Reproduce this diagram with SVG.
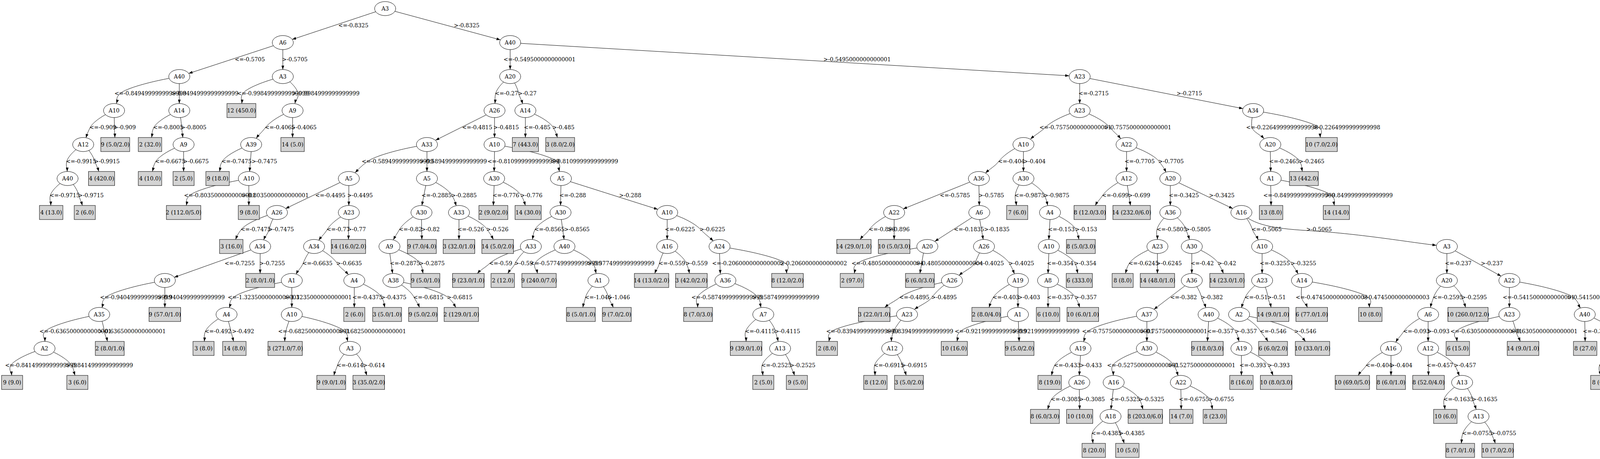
<svg xmlns="http://www.w3.org/2000/svg" width="4236" height="1175" viewBox="0 0 4236 1175">
<defs>
<marker id="a" viewBox="0 0 10 7" refX="10" refY="3.5" markerWidth="10" markerHeight="7" markerUnits="userSpaceOnUse" orient="auto"><path d="M0,0L10,3.5L0,7z" fill="#000"/></marker>
<style>
.e path{fill:none;stroke:#000;stroke-width:1;marker-end:url(#a)}
.e text{font-family:"DejaVu Serif",serif;font-size:14px;fill:#000}
.n ellipse{fill:#fff;stroke:#000;stroke-width:1}
.n rect{fill:#d3d3d3;stroke:#000;stroke-width:1}
.n text{font-family:"DejaVu Serif",serif;font-size:14px;text-anchor:middle;fill:#000}
</style>
</defs>
<rect width="4236" height="1175" fill="#fff"/>
<g id="connectors" class="e">
<path d="M962,30 L748,101"/>
<path d="M1011,29 L1281,102"/>
<path d="M700,117 L483,188"/>
<path d="M724,127 L724,178"/>
<path d="M459,196 C384,208 321,227 308,239 S301,255 298,265"/>
<path d="M459,214 L459,265"/>
<path d="M724,196 C673,208 630,227 622,239 S620,255 619,265"/>
<path d="M724,196 C744,208 761,227 763,239 S757,255 755,265"/>
<path d="M1306,127 L1306,178"/>
<path d="M1333,111 L2737,194"/>
<path d="M292,283 C262,295 237,314 231,326 S223,343 220,353"/>
<path d="M292,283 C292,295 293,314 293,326 S294,342 294,352"/>
<path d="M459,283 C427,295 400,314 394,326 S390,342 388,352"/>
<path d="M459,283 C462,295 464,314 465,326 S467,342 468,352"/>
<path d="M749,283 C715,295 689,314 680,326 S663,344 656,354"/>
<path d="M749,301 L749,352"/>
<path d="M1306,196 C1288,208 1272,227 1269,239 S1268,255 1267,265"/>
<path d="M1306,196 C1317,208 1325,227 1328,239 S1335,255 1338,266"/>
<path d="M2764,214 L2764,265"/>
<path d="M2790,201 L3182,278"/>
<path d="M213,370 C192,382 174,401 171,413 S172,429 172,439"/>
<path d="M213,370 C228,382 239,401 243,413 S250,429 253,439"/>
<path d="M470,370 C435,382 406,401 399,413 S393,429 390,439"/>
<path d="M470,388 L470,439"/>
<path d="M643,370 C606,382 576,401 569,413 S564,429 562,439"/>
<path d="M643,388 L639,439"/>
<path d="M1245,294 L1115,359"/>
<path d="M1266,301 L1266,352"/>
<path d="M1345,301 L1345,352"/>
<path d="M1345,283 C1381,295 1409,314 1416,326 S1424,342 1427,352"/>
<path d="M2764,283 C2720,295 2688,314 2676,326 S2649,346 2638,356"/>
<path d="M2764,283 C2803,295 2831,314 2841,326 S2861,345 2869,355"/>
<path d="M3208,283 C3207,295 3202,314 3205,326 S3227,345 3236,355"/>
<path d="M3208,283 C3292,295 3362,314 3376,326 S3379,342 3380,352"/>
<path d="M173,457 C151,469 132,488 129,500 S130,516 130,526"/>
<path d="M173,457 C188,469 199,488 202,500 S208,516 211,526"/>
<path d="M637,457 C562,469 499,488 486,500 S479,516 477,526"/>
<path d="M637,475 L637,526"/>
<path d="M1093,370 C1017,382 957,401 941,413 S919,432 909,442"/>
<path d="M1093,388 L1093,439"/>
<path d="M1266,388 L1265,439"/>
<path d="M1266,370 C1346,382 1411,401 1425,413 S1430,429 1432,439"/>
<path d="M2620,370 C2589,382 2566,401 2557,413 S2533,433 2523,443"/>
<path d="M2620,388 L2620,439"/>
<path d="M2884,388 L2884,439"/>
<path d="M2884,370 C2926,382 2958,401 2967,413 S2980,430 2985,441"/>
<path d="M3252,388 L3253,439"/>
<path d="M3252,370 C3290,382 3320,401 3327,413 S3332,429 3334,439"/>
<path d="M871,467 L731,534"/>
<path d="M893,475 L893,526"/>
<path d="M1090,475 L1080,526"/>
<path d="M1093,457 C1125,469 1150,488 1157,500 S1165,517 1168,527"/>
<path d="M1265,475 L1263,526"/>
<path d="M1265,457 C1300,469 1327,488 1334,500 S1342,516 1345,526"/>
<path d="M1436,475 L1435,526"/>
<path d="M1460,465 L1684,536"/>
<path d="M2483,466 L2312,535"/>
<path d="M2506,475 L2507,526"/>
<path d="M2620,457 C2610,469 2600,488 2599,500 S2601,516 2602,526"/>
<path d="M2620,457 C2647,469 2669,488 2674,500 S2680,516 2682,526"/>
<path d="M2884,457 C2854,469 2831,488 2823,500 S2809,516 2804,526"/>
<path d="M2886,475 L2894,526"/>
<path d="M2996,475 L2996,526"/>
<path d="M3018,468 L3156,534"/>
<path d="M3253,475 L3254,526"/>
<path d="M3253,457 C3331,469 3395,488 3408,500 S3414,516 3416,526"/>
<path d="M709,544 C664,556 627,575 618,587 S607,603 603,613"/>
<path d="M709,544 C699,556 692,575 689,587 S679,604 675,614"/>
<path d="M893,544 C866,556 845,575 838,587 S823,605 816,615"/>
<path d="M893,562 L892,613"/>
<path d="M1079,544 C1051,556 1030,575 1023,587 S1012,604 1007,614"/>
<path d="M1079,562 L1080,613"/>
<path d="M1175,562 L1175,613"/>
<path d="M1175,544 C1211,556 1239,575 1247,587 S1258,603 1263,613"/>
<path d="M1435,544 C1403,556 1376,575 1370,587 S1365,603 1363,613"/>
<path d="M1437,562 L1444,613"/>
<path d="M1708,562 L1708,613"/>
<path d="M1708,544 C1751,556 1782,575 1793,587 S1816,607 1826,617"/>
<path d="M2289,544 C2258,556 2234,575 2226,587 S2209,603 2202,613"/>
<path d="M2289,562 L2289,613"/>
<path d="M2488,557 L2393,618"/>
<path d="M2508,562 L2517,613"/>
<path d="M2688,562 L2685,613"/>
<path d="M2688,544 C2721,556 2748,575 2754,587 S2760,603 2762,613"/>
<path d="M2996,544 C2979,556 2965,575 2962,587 S2963,603 2963,613"/>
<path d="M2996,544 C3016,556 3032,575 3036,587 S3042,603 3045,613"/>
<path d="M3178,544 C3192,556 3202,575 3206,587 S3217,604 3221,614"/>
<path d="M3178,544 C3205,575 3260,585 3344,590 C3480,598 3600,619 3677,628"/>
<path d="M642,640 L446,710"/>
<path d="M666,649 L666,700"/>
<path d="M804,631 C790,643 781,662 776,674 S763,692 758,702"/>
<path d="M804,631 C834,643 855,662 863,674 S883,693 892,703"/>
<path d="M998,649 L1005,700"/>
<path d="M997,631 C1036,643 1068,662 1075,674 S1081,690 1083,700"/>
<path d="M1359,631 C1307,643 1267,662 1254,674 S1231,690 1222,700"/>
<path d="M1359,631 C1339,643 1325,662 1319,674 S1306,690 1300,700"/>
<path d="M1445,631 C1408,643 1375,662 1370,674 S1374,690 1376,700"/>
<path d="M1445,631 C1482,643 1511,662 1518,674 S1524,690 1526,700"/>
<path d="M1708,631 C1698,643 1691,662 1688,674 S1680,690 1676,700"/>
<path d="M1708,631 C1733,643 1752,662 1757,674 S1763,690 1765,700"/>
<path d="M1842,649 L1844,701"/>
<path d="M1842,631 C1927,643 1997,662 2011,674 S2013,690 2014,700"/>
<path d="M2374,631 C2285,643 2210,662 2195,674 S2189,690 2187,700"/>
<path d="M2364,648 L2355,700"/>
<path d="M2519,631 C2507,643 2502,662 2495,674 S2467,695 2455,705"/>
<path d="M2519,631 C2552,643 2577,662 2584,674 S2593,691 2597,701"/>
<path d="M2685,649 L2683,700"/>
<path d="M2685,631 C2719,643 2746,662 2752,674 S2757,690 2759,700"/>
<path d="M2963,631 C2927,643 2898,662 2891,674 S2884,690 2881,700"/>
<path d="M2963,649 L2963,700"/>
<path d="M3051,649 L3051,700"/>
<path d="M3051,631 C3085,643 3112,662 3119,674 S3128,690 3132,700"/>
<path d="M3231,649 L3231,700"/>
<path d="M3231,631 C3269,643 3298,662 3306,674 S3318,691 3323,701"/>
<path d="M3704,649 L3704,700"/>
<path d="M3725,642 L3843,707"/>
<path d="M422,718 C347,730 284,749 271,761 S264,777 261,788"/>
<path d="M422,736 L422,787"/>
<path d="M747,718 C673,730 611,749 598,761 S590,778 587,788"/>
<path d="M747,736 L747,787"/>
<path d="M907,736 L907,787"/>
<path d="M907,718 C942,730 970,749 977,761 S983,777 985,787"/>
<path d="M1007,718 C1034,730 1054,749 1060,761 S1070,777 1074,787"/>
<path d="M1007,718 C1077,730 1132,749 1146,761 S1161,777 1167,787"/>
<path d="M1532,718 C1516,730 1502,749 1499,761 S1494,777 1492,787"/>
<path d="M1532,718 C1545,730 1554,749 1558,761 S1566,777 1570,787"/>
<path d="M1857,718 C1821,730 1791,749 1785,761 S1786,777 1786,787"/>
<path d="M1857,718 C1899,730 1932,749 1940,761 S1946,777 1948,787"/>
<path d="M2437,718 C2371,730 2320,749 2304,761 S2277,777 2265,787"/>
<path d="M2437,718 C2412,730 2395,749 2386,761 S2355,782 2341,792"/>
<path d="M2606,718 C2575,730 2550,749 2543,761 S2535,777 2532,787"/>
<path d="M2606,736 L2606,787"/>
<path d="M2683,736 L2683,787"/>
<path d="M2683,718 C2718,730 2746,749 2753,761 S2761,777 2764,787"/>
<path d="M3033,732 L2954,792"/>
<path d="M3051,718 C3064,730 3073,749 3076,761 S3084,778 3087,788"/>
<path d="M3231,718 C3210,730 3193,749 3188,761 S3181,778 3178,788"/>
<path d="M3231,718 C3239,730 3244,749 3246,761 S3252,777 3254,787"/>
<path d="M3333,718 C3333,730 3330,749 3332,761 S3343,777 3347,787"/>
<path d="M3333,718 C3418,730 3488,749 3502,761 S3505,777 3506,787"/>
<path d="M3704,718 C3687,730 3674,749 3670,761 S3664,777 3662,787"/>
<path d="M3704,718 C3724,730 3739,749 3743,761 S3749,777 3752,787"/>
<path d="M3864,736 L3864,787"/>
<path d="M3864,718 C3946,730 4012,749 4027,761 S4040,779 4046,789"/>
<path d="M254,805 C185,817 127,836 116,848 S115,864 115,874"/>
<path d="M254,805 C261,817 265,836 267,848 S273,864 275,874"/>
<path d="M580,805 C553,817 531,836 526,848 S524,864 523,874"/>
<path d="M585,823 L598,874"/>
<path d="M740,822 C733,840 729,855 729,874"/>
<path d="M747,805 C815,817 870,836 882,848 S888,864 890,874"/>
<path d="M1954,805 C1932,817 1913,836 1909,848 S1910,864 1910,874"/>
<path d="M1954,805 C1970,817 1982,836 1985,848 S1990,864 1992,874"/>
<path d="M2322,805 C2226,817 2146,836 2130,848 S2124,864 2122,874"/>
<path d="M2306,820 C2290,840 2282,855 2282,874"/>
<path d="M2606,805 C2533,817 2472,836 2459,848 S2452,864 2450,874"/>
<path d="M2607,823 L2609,874"/>
<path d="M2936,805 C2861,817 2799,836 2785,848 S2777,865 2774,875"/>
<path d="M2936,823 L2936,874"/>
<path d="M3094,823 L3091,874"/>
<path d="M3094,805 C3129,817 3156,836 3163,848 S3169,864 3172,874"/>
<path d="M3172,805 C3200,817 3220,836 3227,848 S3240,864 3246,874"/>
<path d="M3172,805 C3244,817 3300,836 3315,848 S3334,864 3342,874"/>
<path d="M3656,805 C3625,817 3602,836 3594,848 S3579,866 3573,876"/>
<path d="M3656,823 L3656,874"/>
<path d="M3864,805 C3796,817 3739,836 3728,848 S3729,864 3730,874"/>
<path d="M3864,805 C3873,817 3878,836 3881,848 S3888,864 3892,874"/>
<path d="M4057,823 L4058,874"/>
<path d="M4057,805 C4093,817 4122,836 4129,848 S4135,864 4138,874"/>
<path d="M114,892 C71,904 35,923 28,935 S29,951 30,961"/>
<path d="M114,892 C149,904 176,923 183,935 S189,951 192,961"/>
<path d="M896,892 C880,904 868,923 864,935 S857,951 855,961"/>
<path d="M896,892 C914,904 927,923 931,935 S936,951 939,961"/>
<path d="M1997,892 C1974,904 1954,923 1951,935 S1952,951 1953,961"/>
<path d="M1997,892 C2011,904 2021,923 2024,935 S2031,951 2034,961"/>
<path d="M2284,892 C2262,904 2242,923 2239,935 S2240,951 2240,961"/>
<path d="M2284,892 C2297,904 2307,923 2310,935 S2317,951 2320,961"/>
<path d="M2766,892 C2733,904 2706,923 2700,935 S2694,951 2692,961"/>
<path d="M2766,910 L2763,961"/>
<path d="M2936,892 C2893,904 2856,923 2849,935 S2850,951 2850,961"/>
<path d="M2936,892 C2971,904 2998,923 3005,935 S3013,952 3016,962"/>
<path d="M3178,910 L3178,961"/>
<path d="M3178,892 C3213,904 3240,923 3247,935 S3255,951 3259,961"/>
<path d="M3561,892 C3530,904 3506,923 3498,935 S3483,951 3477,961"/>
<path d="M3561,910 L3561,961"/>
<path d="M3656,910 L3657,961"/>
<path d="M3656,892 C3690,904 3717,923 3724,935 S3732,952 3736,962"/>
<path d="M4144,892 C4120,904 4099,923 4095,935 S4096,951 4097,961"/>
<path d="M4144,892 C4158,904 4169,923 4172,935 S4179,951 4182,961"/>
<path d="M2763,979 C2728,991 2699,1010 2692,1022 S2685,1038 2682,1048"/>
<path d="M2763,997 L2764,1048"/>
<path d="M2850,997 L2844,1048"/>
<path d="M2851,979 C2884,991 2911,1010 2917,1022 S2923,1038 2926,1048"/>
<path d="M3023,997 L3024,1048"/>
<path d="M3023,979 C3060,991 3089,1010 3096,1022 S3102,1038 3104,1048"/>
<path d="M3743,979 C3720,991 3700,1010 3697,1022 S3698,1038 3699,1048"/>
<path d="M3743,979 C3757,991 3767,1010 3770,1022 S3776,1038 3779,1048"/>
<path d="M2843,1066 C2820,1078 2799,1097 2796,1109 S2797,1125 2798,1135"/>
<path d="M2843,1066 C2855,1078 2864,1097 2867,1109 S2875,1125 2878,1135"/>
<path d="M3785,1066 C3765,1078 3749,1097 3745,1109 S3742,1125 3741,1135"/>
<path d="M3785,1066 C3802,1078 3814,1097 3818,1109 S3825,1125 3828,1135"/>
<text x="866" y="70">&lt;=-0.8325</text><text x="1162" y="70">&gt;-0.8325</text>
<text x="601" y="157">&lt;=-0.5705</text><text x="722" y="157">&gt;-0.5705</text><text x="1289" y="157">&lt;=-0.5495000000000001</text><text x="2108" y="157">&gt;-0.5495000000000001</text>
<text x="293" y="244">&lt;=-0.8494999999999999</text><text x="438" y="244">&gt;-0.8494999999999999</text><text x="607" y="244">&lt;=-0.9984999999999999</text><text x="748" y="244">&gt;-0.9984999999999999</text><text x="1267" y="244">&lt;=-0.27</text><text x="1326" y="244">&gt;-0.27</text><text x="2761" y="244">&lt;=-0.2715</text><text x="3012" y="244">&gt;-0.2715</text>
<text x="229" y="331">&lt;=-0.909</text><text x="291" y="331">&gt;-0.909</text><text x="392" y="331">&lt;=-0.8005</text><text x="463" y="331">&gt;-0.8005</text><text x="678" y="331">&lt;=-0.4065</text><text x="745" y="331">&gt;-0.4065</text><text x="1183" y="331">&lt;=-0.4815</text><text x="1263" y="331">&gt;-0.4815</text><text x="1341" y="331">&lt;=-0.485</text><text x="1414" y="331">&gt;-0.485</text><text x="2661" y="331">&lt;=-0.7575000000000001</text><text x="2826" y="331">&gt;-0.7575000000000001</text><text x="3190" y="331">&lt;=-0.2264999999999998</text><text x="3361" y="331">&gt;-0.2264999999999998</text>
<text x="169" y="418">&lt;=-0.9915</text><text x="241" y="418">&gt;-0.9915</text><text x="397" y="418">&lt;=-0.6675</text><text x="469" y="418">&gt;-0.6675</text><text x="567" y="418">&lt;=-0.7475</text><text x="644" y="418">&gt;-0.7475</text><text x="926" y="418">&lt;=-0.5894999999999999</text><text x="1074" y="418">&gt;-0.5894999999999999</text><text x="1248" y="418">&lt;=-0.8109999999999999</text><text x="1410" y="418">&gt;-0.8109999999999999</text><text x="2555" y="418">&lt;=-0.404</text><text x="2620" y="418">&gt;-0.404</text><text x="2879" y="418">&lt;=-0.7705</text><text x="2965" y="418">&gt;-0.7705</text><text x="3249" y="418">&lt;=-0.2465</text><text x="3325" y="418">&gt;-0.2465</text>
<text x="127" y="505">&lt;=-0.9715</text><text x="200" y="505">&gt;-0.9715</text><text x="471" y="505">&lt;=-0.8035000000000001</text><text x="618" y="505">&gt;-0.8035000000000001</text><text x="807" y="505">&lt;=-0.4495</text><text x="889" y="505">&gt;-0.4495</text><text x="1079" y="505">&lt;=-0.2885</text><text x="1155" y="505">&gt;-0.2885</text><text x="1261" y="505">&lt;=-0.776</text><text x="1332" y="505">&gt;-0.776</text><text x="1432" y="505">&lt;=-0.288</text><text x="1585" y="505">&gt;-0.288</text><text x="2406" y="505">&lt;=-0.5785</text><text x="2505" y="505">&gt;-0.5785</text><text x="2597" y="505">&lt;=-0.9875</text><text x="2672" y="505">&gt;-0.9875</text><text x="2821" y="505">&lt;=-0.699</text><text x="2888" y="505">&gt;-0.699</text><text x="2992" y="505">&lt;=-0.3425</text><text x="3095" y="505">&gt;-0.3425</text><text x="3234" y="505">&lt;=-0.8499999999999999</text><text x="3393" y="505">&gt;-0.8499999999999999</text>
<text x="616" y="592">&lt;=-0.7475</text><text x="687" y="592">&gt;-0.7475</text><text x="836" y="592">&lt;=-0.77</text><text x="889" y="592">&gt;-0.77</text><text x="1021" y="592">&lt;=-0.82</text><text x="1078" y="592">&gt;-0.82</text><text x="1171" y="592">&lt;=-0.526</text><text x="1245" y="592">&gt;-0.526</text><text x="1368" y="592">&lt;=-0.8565</text><text x="1444" y="592">&gt;-0.8565</text><text x="1702" y="592">&lt;=-0.6225</text><text x="1791" y="592">&gt;-0.6225</text><text x="2224" y="592">&lt;=-0.896</text><text x="2272" y="592">&gt;-0.896</text><text x="2442" y="592">&lt;=-0.1835</text><text x="2519" y="592">&gt;-0.1835</text><text x="2683" y="592">&lt;=-0.153</text><text x="2752" y="592">&gt;-0.153</text><text x="2961" y="592">&lt;=-0.5805</text><text x="3034" y="592">&gt;-0.5805</text><text x="3204" y="592">&lt;=-0.5065</text><text x="3344" y="592">&gt;-0.5065</text>
<text x="575" y="679">&lt;=-0.7255</text><text x="664" y="679">&gt;-0.7255</text><text x="774" y="679">&lt;=-0.6635</text><text x="861" y="679">&gt;-0.6635</text><text x="998" y="679">&lt;=-0.2875</text><text x="1073" y="679">&gt;-0.2875</text><text x="1252" y="679">&lt;=-0.59</text><text x="1317" y="679">&gt;-0.59</text><text x="1357" y="679">&lt;=-0.5774999999999999</text><text x="1503" y="679">&gt;-0.5774999999999999</text><text x="1686" y="679">&lt;=-0.559</text><text x="1755" y="679">&gt;-0.559</text><text x="1823" y="679">&lt;=-0.2060000000000002</text><text x="1996" y="679">&gt;-0.2060000000000002</text><text x="2180" y="679">&lt;=-0.4805000000000004</text><text x="2344" y="679">&gt;-0.4805000000000004</text><text x="2493" y="679">&lt;=-0.4025</text><text x="2582" y="679">&gt;-0.4025</text><text x="2680" y="679">&lt;=-0.354</text><text x="2750" y="679">&gt;-0.354</text><text x="2889" y="679">&lt;=-0.6245</text><text x="2960" y="679">&gt;-0.6245</text><text x="3048" y="679">&lt;=-0.42</text><text x="3117" y="679">&gt;-0.42</text><text x="3225" y="679">&lt;=-0.3255</text><text x="3304" y="679">&gt;-0.3255</text><text x="3699" y="679">&lt;=-0.237</text><text x="3791" y="679">&gt;-0.237</text>
<text x="256" y="766">&lt;=-0.9404999999999999</text><text x="403" y="766">&gt;-0.9404999999999999</text><text x="583" y="766">&lt;=-1.3235000000000001</text><text x="728" y="766">&gt;-1.3235000000000001</text><text x="902" y="766">&lt;=-0.4375</text><text x="975" y="766">&gt;-0.4375</text><text x="1058" y="766">&lt;=-0.6815</text><text x="1144" y="766">&gt;-0.6815</text><text x="1497" y="766">&lt;=-1.046</text><text x="1556" y="766">&gt;-1.046</text><text x="1770" y="766">&lt;=-0.5874999999999999</text><text x="1925" y="766">&gt;-0.5874999999999999</text><text x="2302" y="766">&lt;=-0.4895</text><text x="2384" y="766">&gt;-0.4895</text><text x="2541" y="766">&lt;=-0.403</text><text x="2606" y="766">&gt;-0.403</text><text x="2680" y="766">&lt;=-0.357</text><text x="2751" y="766">&gt;-0.357</text><text x="2996" y="766">&lt;=-0.382</text><text x="3074" y="766">&gt;-0.382</text><text x="3186" y="766">&lt;=-0.51</text><text x="3244" y="766">&gt;-0.51</text><text x="3317" y="766">&lt;=-0.4745000000000003</text><text x="3487" y="766">&gt;-0.4745000000000003</text><text x="3668" y="766">&lt;=-0.2595</text><text x="3741" y="766">&gt;-0.2595</text><text x="3847" y="766">&lt;=-0.5415000000000001</text><text x="4012" y="766">&gt;-0.5415000000000001</text>
<text x="101" y="853">&lt;=-0.6365000000000001</text><text x="252" y="853">&gt;-0.6365000000000001</text><text x="524" y="853">&lt;=-0.492</text><text x="594" y="853">&gt;-0.492</text><text x="712" y="853">&lt;=-0.6825000000000001</text><text x="867" y="853">&gt;-0.6825000000000001</text><text x="1907" y="853">&lt;=-0.4115</text><text x="1983" y="853">&gt;-0.4115</text><text x="2115" y="853">&lt;=-0.8394999999999999</text><text x="2268" y="853">&gt;-0.8394999999999999</text><text x="2444" y="853">&lt;=-0.9219999999999999</text><text x="2591" y="853">&gt;-0.9219999999999999</text><text x="2770" y="853">&lt;=-0.7575000000000001</text><text x="2918" y="853">&gt;-0.7575000000000001</text><text x="3090" y="853">&lt;=-0.357</text><text x="3161" y="853">&gt;-0.357</text><text x="3225" y="853">&lt;=-0.546</text><text x="3313" y="853">&gt;-0.546</text><text x="3592" y="853">&lt;=-0.093</text><text x="3654" y="853">&gt;-0.093</text><text x="3713" y="853">&lt;=-0.6305000000000001</text><text x="3866" y="853">&gt;-0.6305000000000001</text><text x="4052" y="853">&lt;=-0.3325</text><text x="4127" y="853">&gt;-0.3325</text>
<text x="13" y="940">&lt;=-0.8414999999999999</text><text x="168" y="940">&gt;-0.8414999999999999</text><text x="862" y="940">&lt;=-0.614</text><text x="929" y="940">&gt;-0.614</text><text x="1949" y="940">&lt;=-0.2525</text><text x="2022" y="940">&gt;-0.2525</text><text x="2237" y="940">&lt;=-0.6915</text><text x="2308" y="940">&gt;-0.6915</text><text x="2698" y="940">&lt;=-0.433</text><text x="2764" y="940">&gt;-0.433</text><text x="2834" y="940">&lt;=-0.5275000000000001</text><text x="2990" y="940">&gt;-0.5275000000000001</text><text x="3173" y="940">&lt;=-0.393</text><text x="3245" y="940">&gt;-0.393</text><text x="3496" y="940">&lt;=-0.404</text><text x="3559" y="940">&gt;-0.404</text><text x="3652" y="940">&lt;=-0.457</text><text x="3722" y="940">&gt;-0.457</text><text x="4093" y="940">&lt;=-0.2975</text><text x="4169" y="940">&gt;-0.2975</text>
<text x="2690" y="1027">&lt;=-0.3085</text><text x="2763" y="1027">&gt;-0.3085</text><text x="2841" y="1027">&lt;=-0.5325</text><text x="2915" y="1027">&gt;-0.5325</text><text x="3018" y="1027">&lt;=-0.6755</text><text x="3094" y="1027">&gt;-0.6755</text><text x="3695" y="1027">&lt;=-0.1635</text><text x="3768" y="1027">&gt;-0.1635</text>
<text x="2794" y="1114">&lt;=-0.4385</text><text x="2865" y="1114">&gt;-0.4385</text><text x="3743" y="1114">&lt;=-0.0755</text><text x="3816" y="1114">&gt;-0.0755</text>
</g>
<g id="nodes" class="n">
<g id="n0"><ellipse cx="986" cy="22" rx="27" ry="18"/><text x="986" y="27">A3</text></g>
<g id="n1"><ellipse cx="724" cy="109" rx="27" ry="18"/><text x="724" y="114">A6</text></g>
<g id="n2"><ellipse cx="1306" cy="109" rx="27" ry="18"/><text x="1306" y="114">A40</text></g>
<g id="n3"><ellipse cx="459" cy="196" rx="27" ry="18"/><text x="459" y="201">A40</text></g>
<g id="n4"><ellipse cx="724" cy="196" rx="27" ry="18"/><text x="724" y="201">A3</text></g>
<g id="n5"><ellipse cx="1306" cy="196" rx="27" ry="18"/><text x="1306" y="201">A20</text></g>
<g id="n6"><ellipse cx="2764" cy="196" rx="27" ry="18"/><text x="2764" y="201">A23</text></g>
<g id="n7"><ellipse cx="292" cy="283" rx="27" ry="18"/><text x="292" y="288">A10</text></g>
<g id="n8"><ellipse cx="459" cy="283" rx="27" ry="18"/><text x="459" y="288">A14</text></g>
<g id="n9"><ellipse cx="749" cy="283" rx="27" ry="18"/><text x="749" y="288">A9</text></g>
<g id="n10"><ellipse cx="1266" cy="283" rx="27" ry="18"/><text x="1266" y="288">A26</text></g>
<g id="n11"><ellipse cx="1345" cy="283" rx="27" ry="18"/><text x="1345" y="288">A14</text></g>
<g id="n12"><ellipse cx="2764" cy="283" rx="27" ry="18"/><text x="2764" y="288">A23</text></g>
<g id="n13"><ellipse cx="3208" cy="283" rx="27" ry="18"/><text x="3208" y="288">A34</text></g>
<g id="n14"><ellipse cx="213" cy="370" rx="27" ry="18"/><text x="213" y="375">A12</text></g>
<g id="n15"><ellipse cx="470" cy="370" rx="27" ry="18"/><text x="470" y="375">A9</text></g>
<g id="n16"><ellipse cx="643" cy="370" rx="27" ry="18"/><text x="643" y="375">A39</text></g>
<g id="n17"><ellipse cx="1093" cy="370" rx="27" ry="18"/><text x="1093" y="375">A33</text></g>
<g id="n18"><ellipse cx="1266" cy="370" rx="27" ry="18"/><text x="1266" y="375">A10</text></g>
<g id="n19"><ellipse cx="2620" cy="370" rx="27" ry="18"/><text x="2620" y="375">A10</text></g>
<g id="n20"><ellipse cx="2884" cy="370" rx="27" ry="18"/><text x="2884" y="375">A22</text></g>
<g id="n21"><ellipse cx="3252" cy="370" rx="27" ry="18"/><text x="3252" y="375">A20</text></g>
<g id="n22"><ellipse cx="173" cy="457" rx="27" ry="18"/><text x="173" y="462">A40</text></g>
<g id="n23"><ellipse cx="637" cy="457" rx="27" ry="18"/><text x="637" y="462">A10</text></g>
<g id="n24"><ellipse cx="893" cy="457" rx="27" ry="18"/><text x="893" y="462">A5</text></g>
<g id="n25"><ellipse cx="1093" cy="457" rx="27" ry="18"/><text x="1093" y="462">A5</text></g>
<g id="n26"><ellipse cx="1265" cy="457" rx="27" ry="18"/><text x="1265" y="462">A30</text></g>
<g id="n27"><ellipse cx="1436" cy="457" rx="27" ry="18"/><text x="1436" y="462">A5</text></g>
<g id="n28"><ellipse cx="2506" cy="457" rx="27" ry="18"/><text x="2506" y="462">A36</text></g>
<g id="n29"><ellipse cx="2620" cy="457" rx="27" ry="18"/><text x="2620" y="462">A30</text></g>
<g id="n30"><ellipse cx="2884" cy="457" rx="27" ry="18"/><text x="2884" y="462">A12</text></g>
<g id="n31"><ellipse cx="2996" cy="457" rx="27" ry="18"/><text x="2996" y="462">A20</text></g>
<g id="n32"><ellipse cx="3253" cy="457" rx="27" ry="18"/><text x="3253" y="462">A1</text></g>
<g id="n33"><ellipse cx="709" cy="544" rx="27" ry="18"/><text x="709" y="549">A26</text></g>
<g id="n34"><ellipse cx="893" cy="544" rx="27" ry="18"/><text x="893" y="549">A23</text></g>
<g id="n35"><ellipse cx="1079" cy="544" rx="27" ry="18"/><text x="1079" y="549">A30</text></g>
<g id="n36"><ellipse cx="1175" cy="544" rx="27" ry="18"/><text x="1175" y="549">A33</text></g>
<g id="n37"><ellipse cx="1435" cy="544" rx="27" ry="18"/><text x="1435" y="549">A30</text></g>
<g id="n38"><ellipse cx="1708" cy="544" rx="27" ry="18"/><text x="1708" y="549">A10</text></g>
<g id="n39"><ellipse cx="2289" cy="544" rx="27" ry="18"/><text x="2289" y="549">A22</text></g>
<g id="n40"><ellipse cx="2507" cy="544" rx="27" ry="18"/><text x="2507" y="549">A6</text></g>
<g id="n41"><ellipse cx="2688" cy="544" rx="27" ry="18"/><text x="2688" y="549">A4</text></g>
<g id="n42"><ellipse cx="2996" cy="544" rx="27" ry="18"/><text x="2996" y="549">A36</text></g>
<g id="n43"><ellipse cx="3178" cy="544" rx="27" ry="18"/><text x="3178" y="549">A16</text></g>
<g id="n44"><ellipse cx="666" cy="631" rx="27" ry="18"/><text x="666" y="636">A34</text></g>
<g id="n45"><ellipse cx="804" cy="631" rx="27" ry="18"/><text x="804" y="636">A34</text></g>
<g id="n46"><ellipse cx="997" cy="631" rx="27" ry="18"/><text x="997" y="636">A9</text></g>
<g id="n47"><ellipse cx="1359" cy="631" rx="27" ry="18"/><text x="1359" y="636">A33</text></g>
<g id="n48"><ellipse cx="1445" cy="631" rx="27" ry="18"/><text x="1445" y="636">A40</text></g>
<g id="n49"><ellipse cx="1708" cy="631" rx="27" ry="18"/><text x="1708" y="636">A16</text></g>
<g id="n50"><ellipse cx="1842" cy="631" rx="27" ry="18"/><text x="1842" y="636">A24</text></g>
<g id="n51"><ellipse cx="2374" cy="631" rx="27" ry="18"/><text x="2374" y="636">A20</text></g>
<g id="n52"><ellipse cx="2519" cy="631" rx="27" ry="18"/><text x="2519" y="636">A26</text></g>
<g id="n53"><ellipse cx="2685" cy="631" rx="27" ry="18"/><text x="2685" y="636">A10</text></g>
<g id="n54"><ellipse cx="2963" cy="631" rx="27" ry="18"/><text x="2963" y="636">A23</text></g>
<g id="n55"><ellipse cx="3051" cy="631" rx="27" ry="18"/><text x="3051" y="636">A30</text></g>
<g id="n56"><ellipse cx="3231" cy="631" rx="27" ry="18"/><text x="3231" y="636">A10</text></g>
<g id="n57"><ellipse cx="3704" cy="631" rx="27" ry="18"/><text x="3704" y="636">A3</text></g>
<g id="n58"><ellipse cx="422" cy="718" rx="27" ry="18"/><text x="422" y="723">A30</text></g>
<g id="n59"><ellipse cx="747" cy="718" rx="27" ry="18"/><text x="747" y="723">A1</text></g>
<g id="n60"><ellipse cx="907" cy="718" rx="27" ry="18"/><text x="907" y="723">A4</text></g>
<g id="n61"><ellipse cx="1007" cy="718" rx="27" ry="18"/><text x="1007" y="723">A38</text></g>
<g id="n62"><ellipse cx="1532" cy="718" rx="27" ry="18"/><text x="1532" y="723">A1</text></g>
<g id="n63"><ellipse cx="1857" cy="718" rx="27" ry="18"/><text x="1857" y="723">A36</text></g>
<g id="n64"><ellipse cx="2437" cy="718" rx="27" ry="18"/><text x="2437" y="723">A26</text></g>
<g id="n65"><ellipse cx="2606" cy="718" rx="27" ry="18"/><text x="2606" y="723">A19</text></g>
<g id="n66"><ellipse cx="2683" cy="718" rx="27" ry="18"/><text x="2683" y="723">A8</text></g>
<g id="n67"><ellipse cx="3051" cy="718" rx="27" ry="18"/><text x="3051" y="723">A36</text></g>
<g id="n68"><ellipse cx="3231" cy="718" rx="27" ry="18"/><text x="3231" y="723">A23</text></g>
<g id="n69"><ellipse cx="3333" cy="718" rx="27" ry="18"/><text x="3333" y="723">A14</text></g>
<g id="n70"><ellipse cx="3704" cy="718" rx="27" ry="18"/><text x="3704" y="723">A20</text></g>
<g id="n71"><ellipse cx="3864" cy="718" rx="27" ry="18"/><text x="3864" y="723">A22</text></g>
<g id="n72"><ellipse cx="254" cy="805" rx="27" ry="18"/><text x="254" y="810">A35</text></g>
<g id="n73"><ellipse cx="580" cy="805" rx="27" ry="18"/><text x="580" y="810">A4</text></g>
<g id="n74"><ellipse cx="747" cy="805" rx="27" ry="18"/><text x="747" y="810">A10</text></g>
<g id="n75"><ellipse cx="1954" cy="805" rx="27" ry="18"/><text x="1954" y="810">A7</text></g>
<g id="n76"><ellipse cx="2322" cy="805" rx="27" ry="18"/><text x="2322" y="810">A23</text></g>
<g id="n77"><ellipse cx="2606" cy="805" rx="27" ry="18"/><text x="2606" y="810">A1</text></g>
<g id="n78"><ellipse cx="2936" cy="805" rx="27" ry="18"/><text x="2936" y="810">A37</text></g>
<g id="n79"><ellipse cx="3094" cy="805" rx="27" ry="18"/><text x="3094" y="810">A40</text></g>
<g id="n80"><ellipse cx="3172" cy="805" rx="27" ry="18"/><text x="3172" y="810">A2</text></g>
<g id="n81"><ellipse cx="3656" cy="805" rx="27" ry="18"/><text x="3656" y="810">A6</text></g>
<g id="n82"><ellipse cx="3864" cy="805" rx="27" ry="18"/><text x="3864" y="810">A23</text></g>
<g id="n83"><ellipse cx="4057" cy="805" rx="27" ry="18"/><text x="4057" y="810">A40</text></g>
<g id="n84"><ellipse cx="114" cy="892" rx="27" ry="18"/><text x="114" y="897">A2</text></g>
<g id="n85"><ellipse cx="896" cy="892" rx="27" ry="18"/><text x="896" y="897">A3</text></g>
<g id="n86"><ellipse cx="1997" cy="892" rx="27" ry="18"/><text x="1997" y="897">A13</text></g>
<g id="n87"><ellipse cx="2284" cy="892" rx="27" ry="18"/><text x="2284" y="897">A12</text></g>
<g id="n88"><ellipse cx="2766" cy="892" rx="27" ry="18"/><text x="2766" y="897">A19</text></g>
<g id="n89"><ellipse cx="2936" cy="892" rx="27" ry="18"/><text x="2936" y="897">A30</text></g>
<g id="n90"><ellipse cx="3178" cy="892" rx="27" ry="18"/><text x="3178" y="897">A19</text></g>
<g id="n91"><ellipse cx="3561" cy="892" rx="27" ry="18"/><text x="3561" y="897">A16</text></g>
<g id="n92"><ellipse cx="3656" cy="892" rx="27" ry="18"/><text x="3656" y="897">A12</text></g>
<g id="n93"><ellipse cx="4144" cy="892" rx="27" ry="18"/><text x="4144" y="897">A18</text></g>
<g id="n94"><ellipse cx="2763" cy="979" rx="27" ry="18"/><text x="2763" y="984">A26</text></g>
<g id="n95"><ellipse cx="2851" cy="979" rx="27" ry="18"/><text x="2851" y="984">A16</text></g>
<g id="n96"><ellipse cx="3023" cy="979" rx="27" ry="18"/><text x="3023" y="984">A22</text></g>
<g id="n97"><ellipse cx="3743" cy="979" rx="27" ry="18"/><text x="3743" y="984">A13</text></g>
<g id="n98"><ellipse cx="2843" cy="1066" rx="27" ry="18"/><text x="2843" y="1071">A18</text></g>
<g id="n99"><ellipse cx="3785" cy="1066" rx="27" ry="18"/><text x="3785" y="1071">A13</text></g>
<g id="l0"><rect x="581" y="265" width="74" height="36"/><text x="618" y="288">12 (450.0)</text></g>
<g id="l1"><rect x="258" y="352" width="74" height="36"/><text x="295" y="375">9 (5.0/2.0)</text></g>
<g id="l2"><rect x="354" y="352" width="60" height="36"/><text x="384" y="375">2 (32.0)</text></g>
<g id="l3"><rect x="719" y="352" width="60" height="36"/><text x="749" y="375">14 (5.0)</text></g>
<g id="l4"><rect x="1311.5" y="352" width="67" height="36"/><text x="1345" y="375">7 (443.0)</text></g>
<g id="l5"><rect x="1397" y="352" width="74" height="36"/><text x="1434" y="375">3 (8.0/2.0)</text></g>
<g id="l6"><rect x="3342.5" y="352" width="81" height="36"/><text x="3383" y="375">10 (7.0/2.0)</text></g>
<g id="l7"><rect x="226.5" y="439" width="67" height="36"/><text x="260" y="462">4 (420.0)</text></g>
<g id="l8"><rect x="354" y="439" width="60" height="36"/><text x="384" y="462">4 (10.0)</text></g>
<g id="l9"><rect x="443" y="439" width="54" height="36"/><text x="470" y="462">2 (5.0)</text></g>
<g id="l10"><rect x="527" y="439" width="60" height="36"/><text x="557" y="462">9 (18.0)</text></g>
<g id="l11"><rect x="3301" y="439" width="74" height="36"/><text x="3338" y="462">13 (442.0)</text></g>
<g id="l12"><rect x="101" y="526" width="60" height="36"/><text x="131" y="549">4 (13.0)</text></g>
<g id="l13"><rect x="190" y="526" width="54" height="36"/><text x="217" y="549">2 (6.0)</text></g>
<g id="l14"><rect x="426" y="526" width="88" height="36"/><text x="470" y="549">2 (112.0/5.0)</text></g>
<g id="l15"><rect x="610" y="526" width="54" height="36"/><text x="637" y="549">9 (8.0)</text></g>
<g id="l16"><rect x="1226" y="526" width="74" height="36"/><text x="1263" y="549">2 (9.0/2.0)</text></g>
<g id="l17"><rect x="1318.5" y="526" width="67" height="36"/><text x="1352" y="549">14 (30.0)</text></g>
<g id="l18"><rect x="2577" y="526" width="54" height="36"/><text x="2604" y="549">7 (6.0)</text></g>
<g id="l19"><rect x="2749.5" y="526" width="81" height="36"/><text x="2790" y="549">8 (12.0/3.0)</text></g>
<g id="l20"><rect x="2849" y="526" width="96" height="36"/><text x="2897" y="549">14 (232.0/6.0)</text></g>
<g id="l21"><rect x="3224" y="526" width="60" height="36"/><text x="3254" y="549">13 (8.0)</text></g>
<g id="l22"><rect x="3387.5" y="526" width="67" height="36"/><text x="3421" y="549">14 (14.0)</text></g>
<g id="l23"><rect x="562" y="613" width="60" height="36"/><text x="592" y="636">3 (16.0)</text></g>
<g id="l24"><rect x="848" y="613" width="88" height="36"/><text x="892" y="636">14 (16.0/2.0)</text></g>
<g id="l25"><rect x="1043" y="613" width="74" height="36"/><text x="1080" y="636">9 (7.0/4.0)</text></g>
<g id="l26"><rect x="1134.5" y="613" width="81" height="36"/><text x="1175" y="636">3 (32.0/1.0)</text></g>
<g id="l27"><rect x="1233.5" y="613" width="81" height="36"/><text x="1274" y="636">14 (5.0/2.0)</text></g>
<g id="l28"><rect x="2142" y="613" width="88" height="36"/><text x="2186" y="636">14 (29.0/1.0)</text></g>
<g id="l29"><rect x="2248.5" y="613" width="81" height="36"/><text x="2289" y="636">10 (5.0/3.0)</text></g>
<g id="l30"><rect x="2730" y="613" width="74" height="36"/><text x="2767" y="636">8 (5.0/3.0)</text></g>
<g id="l31"><rect x="629" y="700" width="74" height="36"/><text x="666" y="723">2 (8.0/1.0)</text></g>
<g id="l32"><rect x="1052" y="700" width="74" height="36"/><text x="1089" y="723">9 (5.0/1.0)</text></g>
<g id="l33"><rect x="1158.5" y="700" width="81" height="36"/><text x="1199" y="723">9 (23.0/1.0)</text></g>
<g id="l34"><rect x="1257" y="700" width="60" height="36"/><text x="1287" y="723">2 (12.0)</text></g>
<g id="l35"><rect x="1336" y="700" width="88" height="36"/><text x="1380" y="723">9 (240.0/7.0)</text></g>
<g id="l36"><rect x="1624" y="700" width="88" height="36"/><text x="1668" y="723">14 (13.0/2.0)</text></g>
<g id="l37"><rect x="1729.5" y="700" width="81" height="36"/><text x="1770" y="723">3 (42.0/2.0)</text></g>
<g id="l38"><rect x="1975.5" y="700" width="81" height="36"/><text x="2016" y="723">8 (12.0/2.0)</text></g>
<g id="l39"><rect x="2151" y="700" width="60" height="36"/><text x="2181" y="723">2 (97.0)</text></g>
<g id="l40"><rect x="2318" y="700" width="74" height="36"/><text x="2355" y="723">6 (6.0/3.0)</text></g>
<g id="l41"><rect x="2729.5" y="700" width="67" height="36"/><text x="2763" y="723">6 (333.0)</text></g>
<g id="l42"><rect x="2847" y="700" width="54" height="36"/><text x="2874" y="723">8 (8.0)</text></g>
<g id="l43"><rect x="2919" y="700" width="88" height="36"/><text x="2963" y="723">14 (48.0/1.0)</text></g>
<g id="l44"><rect x="3097" y="700" width="88" height="36"/><text x="3141" y="723">14 (23.0/1.0)</text></g>
<g id="l45"><rect x="381.5" y="787" width="81" height="36"/><text x="422" y="810">9 (57.0/1.0)</text></g>
<g id="l46"><rect x="880" y="787" width="54" height="36"/><text x="907" y="810">2 (6.0)</text></g>
<g id="l47"><rect x="954" y="787" width="74" height="36"/><text x="991" y="810">3 (5.0/1.0)</text></g>
<g id="l48"><rect x="1046" y="787" width="74" height="36"/><text x="1083" y="810">9 (5.0/2.0)</text></g>
<g id="l49"><rect x="1137" y="787" width="88" height="36"/><text x="1181" y="810">2 (129.0/1.0)</text></g>
<g id="l50"><rect x="1450" y="787" width="74" height="36"/><text x="1487" y="810">8 (5.0/1.0)</text></g>
<g id="l51"><rect x="1542" y="787" width="74" height="36"/><text x="1579" y="810">9 (7.0/2.0)</text></g>
<g id="l52"><rect x="1750" y="787" width="74" height="36"/><text x="1787" y="810">8 (7.0/3.0)</text></g>
<g id="l53"><rect x="2197.5" y="787" width="81" height="36"/><text x="2238" y="810">3 (22.0/1.0)</text></g>
<g id="l54"><rect x="2488" y="787" width="74" height="36"/><text x="2525" y="810">2 (8.0/4.0)</text></g>
<g id="l55"><rect x="2653" y="787" width="60" height="36"/><text x="2683" y="810">6 (10.0)</text></g>
<g id="l56"><rect x="2731.5" y="787" width="81" height="36"/><text x="2772" y="810">10 (6.0/1.0)</text></g>
<g id="l57"><rect x="3218.5" y="787" width="81" height="36"/><text x="3259" y="810">14 (9.0/1.0)</text></g>
<g id="l58"><rect x="3317.5" y="787" width="81" height="36"/><text x="3358" y="810">6 (77.0/1.0)</text></g>
<g id="l59"><rect x="3478" y="787" width="60" height="36"/><text x="3508" y="810">10 (8.0)</text></g>
<g id="l60"><rect x="3706.5" y="787" width="103" height="36"/><text x="3758" y="810">10 (260.0/12.0)</text></g>
<g id="l61"><rect x="244" y="874" width="74" height="36"/><text x="281" y="897">2 (8.0/1.0)</text></g>
<g id="l62"><rect x="494" y="874" width="54" height="36"/><text x="521" y="897">3 (8.0)</text></g>
<g id="l63"><rect x="570" y="874" width="60" height="36"/><text x="600" y="897">14 (8.0)</text></g>
<g id="l64"><rect x="686" y="874" width="88" height="36"/><text x="730" y="897">3 (271.0/7.0)</text></g>
<g id="l65"><rect x="1869.5" y="874" width="81" height="36"/><text x="1910" y="897">9 (39.0/1.0)</text></g>
<g id="l66"><rect x="2090" y="874" width="54" height="36"/><text x="2117" y="897">2 (8.0)</text></g>
<g id="l67"><rect x="2409.5" y="874" width="67" height="36"/><text x="2443" y="897">10 (16.0)</text></g>
<g id="l68"><rect x="2573" y="874" width="74" height="36"/><text x="2610" y="897">9 (5.0/2.0)</text></g>
<g id="l69"><rect x="3050.5" y="874" width="81" height="36"/><text x="3091" y="897">9 (18.0/3.0)</text></g>
<g id="l70"><rect x="3222" y="874" width="74" height="36"/><text x="3259" y="897">6 (6.0/2.0)</text></g>
<g id="l71"><rect x="3316" y="874" width="88" height="36"/><text x="3360" y="897">10 (33.0/1.0)</text></g>
<g id="l72"><rect x="3702" y="874" width="60" height="36"/><text x="3732" y="897">6 (15.0)</text></g>
<g id="l73"><rect x="3858.5" y="874" width="81" height="36"/><text x="3899" y="897">14 (9.0/1.0)</text></g>
<g id="l74"><rect x="4028" y="874" width="60" height="36"/><text x="4058" y="897">8 (27.0)</text></g>
<g id="l75"><rect x="4" y="961" width="54" height="36"/><text x="31" y="984">9 (9.0)</text></g>
<g id="l76"><rect x="171" y="961" width="54" height="36"/><text x="198" y="984">3 (6.0)</text></g>
<g id="l77"><rect x="811" y="961" width="74" height="36"/><text x="848" y="984">9 (9.0/1.0)</text></g>
<g id="l78"><rect x="903.5" y="961" width="81" height="36"/><text x="944" y="984">3 (35.0/2.0)</text></g>
<g id="l79"><rect x="1927" y="961" width="54" height="36"/><text x="1954" y="984">2 (5.0)</text></g>
<g id="l80"><rect x="2013" y="961" width="54" height="36"/><text x="2040" y="984">9 (5.0)</text></g>
<g id="l81"><rect x="2211" y="961" width="60" height="36"/><text x="2241" y="984">8 (12.0)</text></g>
<g id="l82"><rect x="2290" y="961" width="74" height="36"/><text x="2327" y="984">3 (5.0/2.0)</text></g>
<g id="l83"><rect x="2657" y="961" width="60" height="36"/><text x="2687" y="984">8 (19.0)</text></g>
<g id="l84"><rect x="3148" y="961" width="60" height="36"/><text x="3178" y="984">8 (16.0)</text></g>
<g id="l85"><rect x="3226.5" y="961" width="81" height="36"/><text x="3267" y="984">10 (8.0/3.0)</text></g>
<g id="l86"><rect x="3418" y="961" width="88" height="36"/><text x="3462" y="984">10 (69.0/5.0)</text></g>
<g id="l87"><rect x="3524" y="961" width="74" height="36"/><text x="3561" y="984">8 (6.0/1.0)</text></g>
<g id="l88"><rect x="3616.5" y="961" width="81" height="36"/><text x="3657" y="984">8 (52.0/4.0)</text></g>
<g id="l89"><rect x="4072" y="961" width="54" height="36"/><text x="4099" y="984">8 (6.0)</text></g>
<g id="l90"><rect x="4144" y="961" width="88" height="36"/><text x="4188" y="984">10 (22.0/3.0)</text></g>
<g id="l91"><rect x="2638" y="1048" width="74" height="36"/><text x="2675" y="1071">8 (6.0/3.0)</text></g>
<g id="l92"><rect x="2730.5" y="1048" width="67" height="36"/><text x="2764" y="1071">10 (10.0)</text></g>
<g id="l93"><rect x="2888" y="1048" width="88" height="36"/><text x="2932" y="1071">8 (203.0/6.0)</text></g>
<g id="l94"><rect x="2994" y="1048" width="60" height="36"/><text x="3024" y="1071">14 (7.0)</text></g>
<g id="l95"><rect x="3080" y="1048" width="60" height="36"/><text x="3110" y="1071">8 (23.0)</text></g>
<g id="l96"><rect x="3670" y="1048" width="60" height="36"/><text x="3700" y="1071">10 (6.0)</text></g>
<g id="l97"><rect x="2770" y="1135" width="60" height="36"/><text x="2800" y="1158">8 (20.0)</text></g>
<g id="l98"><rect x="2856" y="1135" width="60" height="36"/><text x="2886" y="1158">10 (5.0)</text></g>
<g id="l99"><rect x="3701" y="1135" width="74" height="36"/><text x="3738" y="1158">8 (7.0/1.0)</text></g>
<g id="l100"><rect x="3793.5" y="1135" width="81" height="36"/><text x="3834" y="1158">10 (7.0/2.0)</text></g>
</g>
</svg>
